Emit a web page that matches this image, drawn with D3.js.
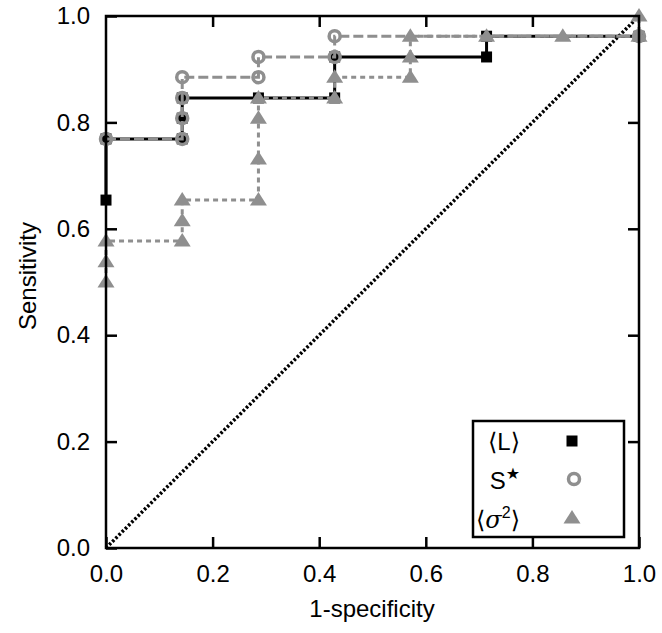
<!DOCTYPE html>
<html>
<head>
<meta charset="utf-8">
<script src="https://cdn.jsdelivr.net/npm/d3@7"></script>
<style>
  body { margin: 0; background: #fff; }
  text { font-family: "Liberation Sans", Arial, "DejaVu Sans", sans-serif; }
</style>
</head>
<body>
<div id="roc"></div>
<script>
// ROC points (x = 1-specificity, y = sensitivity)
var lX = [0, 0, 0.143, 0.143, 0.143, 0.286, 0.429, 0.429, 0.714, 0.714, 1.0];
var lY = [0.654, 0.769, 0.769, 0.808, 0.846, 0.846, 0.846, 0.923, 0.923, 0.962, 0.962];

var sX = [0, 0.143, 0.143, 0.143, 0.143, 0.286, 0.286, 0.429, 0.429, 1.0];
var sY = [0.769, 0.769, 0.808, 0.846, 0.885, 0.885, 0.923, 0.923, 0.962, 0.962];

var vX = [0, 0, 0, 0.143, 0.143, 0.143, 0.286, 0.286, 0.286, 0.286, 0.429, 0.429, 0.571, 0.571, 0.571, 0.714, 0.857, 1.0, 1.0];
var vY = [0.5, 0.538, 0.577, 0.577, 0.615, 0.654, 0.654, 0.731, 0.808, 0.846, 0.846, 0.885, 0.885, 0.923, 0.962, 0.962, 0.962, 0.962, 1.0];

var chanceX = [0, 1];
var chanceY = [0, 1];

var ticks = [0, 0.2, 0.4, 0.6, 0.8, 1.0];

var gray = "#8f8f8f";

var svg = d3.select("#roc")
            .append("svg")
            .attr("width", 662)
            .attr("height", 633)

var x = d3.scaleLinear().domain([0, 1]).range([106, 639]);
var y = d3.scaleLinear().domain([0, 1]).range([548, 16]);

function pts(xs, ys) {
    return xs.map(function(d, i) { return [d, ys[i]]; });
}

var line = d3.line()
    .x(function(d) { return x(d[0]); })
    .y(function(d) { return y(d[1]); });

// chance diagonal
svg.append("path")
    .attr("d", line(pts(chanceX, chanceY)))
    .style("fill", "none")
    .style("stroke", "black")
    .style("stroke-width", 3.5)
    .style("stroke-dasharray", "2.5,2");

function tri(g) {
    g.append("path")
        .attr("d", "M0,-8L8.5,5.5L-8.5,5.5Z")
        .style("fill", gray);
}
function sq(g) {
    g.append("rect")
        .attr("x", -5.5).attr("y", -5.5)
        .attr("width", 11).attr("height", 11)
        .style("fill", "black");
}
function ring(g) {
    g.append("circle")
        .attr("r", 5.5)
        .style("fill", "none")
        .style("stroke", gray)
        .style("stroke-width", 3.5);
}

function series(data, color, dash, marker) {
    svg.append("path")
        .attr("d", line(data))
        .style("fill", "none")
        .style("stroke", color)
        .style("stroke-width", 3)
        .style("stroke-dasharray", dash);
    svg.append("g")
        .selectAll("g")
        .data(data)
        .enter()
        .append("g")
        .attr("transform", function(d) { return "translate(" + x(d[0]) + "," + y(d[1]) + ")"; })
        .each(function() { marker(d3.select(this)); });
}

series(pts(lX, lY), "black", null, sq);
series(pts(sX, sY), gray, "10,4", ring);
series(pts(vX, vY), gray, "5,4", tri);

// axes, ticks pointing inward on all sides
var fmt = d3.format(".1f");
svg.append("g")
    .attr("transform", "translate(0,548)")
    .call(d3.axisBottom(x).tickValues(ticks).tickFormat(fmt).tickSizeInner(-11).tickSizeOuter(0).tickPadding(17));
svg.append("g")
    .attr("transform", "translate(106,0)")
    .call(d3.axisLeft(y).tickValues(ticks).tickFormat(fmt).tickSizeInner(-11).tickSizeOuter(0).tickPadding(16));
svg.append("g")
    .attr("transform", "translate(0,16)")
    .call(d3.axisTop(x).tickValues(ticks.slice(1, 5)).tickFormat("").tickSizeInner(-11).tickSizeOuter(0));
svg.append("g")
    .attr("transform", "translate(639,0)")
    .call(d3.axisRight(y).tickValues(ticks.slice(1, 5)).tickFormat("").tickSizeInner(-11).tickSizeOuter(0));

svg.selectAll(".domain").remove();
svg.selectAll(".tick line").style("stroke", "black").style("stroke-width", 2.5);
svg.selectAll(".tick text")
    .style("font-size", "24px")
    .style("fill", "black");

svg.append("rect")
    .attr("x", 106).attr("y", 16)
    .attr("width", 533).attr("height", 532)
    .style("fill", "none")
    .style("stroke", "black")
    .style("stroke-width", 2.5);

svg.append("text")
    .attr("x", 372)
    .attr("y", 617)
    .attr("text-anchor", "middle")
    .style("font-size", "24px")
    .text("1-specificity");

svg.append("text")
    .attr("transform", "translate(36,276) rotate(-90)")
    .attr("text-anchor", "middle")
    .style("font-size", "24px")
    .text("Sensitivity");

// legend
var leg = svg.append("g");
leg.append("rect")
    .attr("x", 473).attr("y", 421)
    .attr("width", 151).attr("height", 116)
    .style("fill", "white")
    .style("stroke", "black")
    .style("stroke-width", 2.5);

var t1 = leg.append("text").attr("x", 520).attr("y", 450).attr("text-anchor", "end").style("font-size", "24px");
t1.append("tspan").style("font-family", "DejaVu Sans").text("\u27E8");
t1.append("tspan").text("L");
t1.append("tspan").style("font-family", "DejaVu Sans").text("\u27E9");

var t2 = leg.append("text").attr("x", 520).attr("y", 489).attr("text-anchor", "end").style("font-size", "24px");
t2.append("tspan").text("S");
t2.append("tspan").attr("dy", -10).style("font-size", "16px").style("font-family", "DejaVu Sans").text("\u2605");

var t3 = leg.append("text").attr("x", 520).attr("y", 528).attr("text-anchor", "end").style("font-size", "24px");
t3.append("tspan").style("font-family", "DejaVu Sans").text("\u27E8");
t3.append("tspan").style("font-family", "DejaVu Serif").style("font-style", "italic").text("\u03C3");
t3.append("tspan").attr("dy", -10).style("font-size", "16px").text("2");
t3.append("tspan").attr("dy", 10).style("font-family", "DejaVu Sans").text("\u27E9");

sq(leg.append("g").attr("transform", "translate(572,441)"));
ring(leg.append("g").attr("transform", "translate(574,479)"));
tri(leg.append("g").attr("transform", "translate(572,518)"));
</script>
</body>
</html>
